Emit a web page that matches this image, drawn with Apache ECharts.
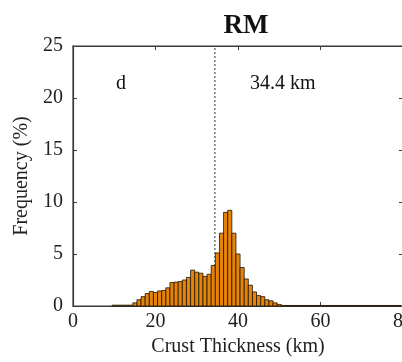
<!DOCTYPE html>
<html><head><meta charset="utf-8">
<script src="https://cdn.jsdelivr.net/npm/echarts@6/dist/echarts.min.js"></script>
<style>html,body{margin:0;padding:0;background:#fff}#c{width:402px;height:362px}</style>
</head><body><div id="c"></div>
<script>
// Histogram bins (centres, km) and frequencies (%)
const binCenters = [10,11,12,13,14,15,16,17,18,19,20,21,22,23,24,25,26,27,28,29,30,31,32,33,34,35,36,37,38,39,40,41,42,43,44,45,46,47,48,49,50,
  51,52,53,54,55,56,57,58,59,60,61,62,63,64,65,66,67,68,69,70,71,72,73,74,75,76,77,78,79];
const frequency = [0.08,0.08,0.08,0.08,0.08,0.3,0.6,0.9,1.2,1.4,1.3,1.45,1.5,1.75,2.25,2.3,2.35,2.5,2.75,3.45,3.25,3.15,2.85,3.05,3.9,5.1,7.0,9.0,9.2,7.0,5.0,3.7,2.6,2.0,1.35,1.0,0.9,0.6,0.5,0.3,0.15,
  0.05,0.05,0.05,0.05,0.05,0.05,0.05,0.05,0.05,0.05,0.05,0.05,0.05,0.05,0.05,0.05,0.05,0.05,0.05,0.05,0.05,0.05,0.05,0.05,0.05,0.05,0.05,0.05,0.05];
const binWidth = 1;
const meanThickness = 34.4;
const xRange = [0, 80], xStep = 20;
const yRange = [0, 25], yStep = 5;
const titleText = 'RM';
const panelLabel = 'd';
const meanLabel = '34.4 km';
const xName = 'Crust Thickness (km)';
const yName = 'Frequency (%)';

const FONT = '"Liberation Serif", "Times New Roman", serif';
const AXC = '#3a3a3a';
const chart = echarts.init(document.getElementById('c'), null, {renderer: 'canvas'});

function renderItem(params, api) {
  const c = api.value(0), v = api.value(1);
  const p0 = api.coord([c - binWidth / 2, v]);
  const p1 = api.coord([c + binWidth / 2, 0]);
  return {
    type: 'rect',
    shape: {x: p0[0], y: p0[1], width: p1[0] - p0[0], height: p1[1] - p0[1]},
    style: {fill: '#E5830A', stroke: '#1e1400', lineWidth: 0.8}
  };
}

const baseX = {
  type: 'value', gridIndex: 0, show: true, min: xRange[0], max: xRange[1], interval: xStep,
  splitLine: {show: false},
  axisLine: {show: true, onZero: false, lineStyle: {color: AXC, width: 1.2}},
  axisTick: {show: true, inside: true, length: 4, lineStyle: {color: AXC}}
};
const baseY = {
  type: 'value', gridIndex: 0, show: true, min: yRange[0], max: yRange[1], interval: yStep,
  splitLine: {show: false},
  axisLine: {show: true, onZero: false, lineStyle: {color: AXC, width: 1.2}},
  axisTick: {show: true, inside: true, length: 4, lineStyle: {color: AXC}}
};

chart.setOption({
  animation: false,
  backgroundColor: '#fff',
  title: {
    text: titleText, left: 241, top: 8, textAlign: 'center',
    textStyle: {fontFamily: FONT, fontSize: 27, fontWeight: 'bold', color: '#111'}
  },
  grid: {left: 73, top: 46, width: 330, height: 260, containLabel: false, outerBoundsMode: 'none',
    show: true, borderColor: AXC, borderWidth: 1.2, backgroundColor: 'transparent'},
  xAxis: [
    Object.assign({}, baseX, {
      position: 'bottom',
      axisLabel: {show: true, margin: 6, fontFamily: FONT, fontSize: 20, color: '#222'},
      name: xName, nameLocation: 'middle', nameGap: 30,
      nameTextStyle: {fontFamily: FONT, fontSize: 20, color: '#222'}
    }),
    Object.assign({}, baseX, {position: 'top', axisLabel: {show: false}})
  ],
  yAxis: [
    Object.assign({}, baseY, {
      position: 'left',
      axisLabel: {show: true, margin: 10, fontFamily: FONT, fontSize: 20, color: '#222'},
      name: yName, nameLocation: 'middle', nameGap: 34,
      nameTextStyle: {fontFamily: FONT, fontSize: 20, color: '#222'}
    }),
    Object.assign({}, baseY, {position: 'right', axisLabel: {show: false}})
  ],
  graphic: [
    {type: 'text', left: 116, top: 74, style: {text: panelLabel, font: '20px ' + FONT, fill: '#111'}},
    {type: 'text', left: 250, top: 74, style: {text: meanLabel, font: '20px ' + FONT, fill: '#111'}}
  ],
  series: [
    {
      type: 'line', xAxisIndex: 1, yAxisIndex: 1, z: 1, symbol: 'none', silent: true,
      data: [[meanThickness, yRange[0]], [meanThickness, yRange[1]]],
      lineStyle: {color: '#333', width: 1, type: [2, 2]}
    },
    {
      type: 'custom', xAxisIndex: 0, yAxisIndex: 0, z: 2,
      renderItem: renderItem,
      encode: {x: 0, y: 1},
      data: binCenters.map((c, i) => [c, frequency[i]])
    }
  ]
});
</script></body></html>
